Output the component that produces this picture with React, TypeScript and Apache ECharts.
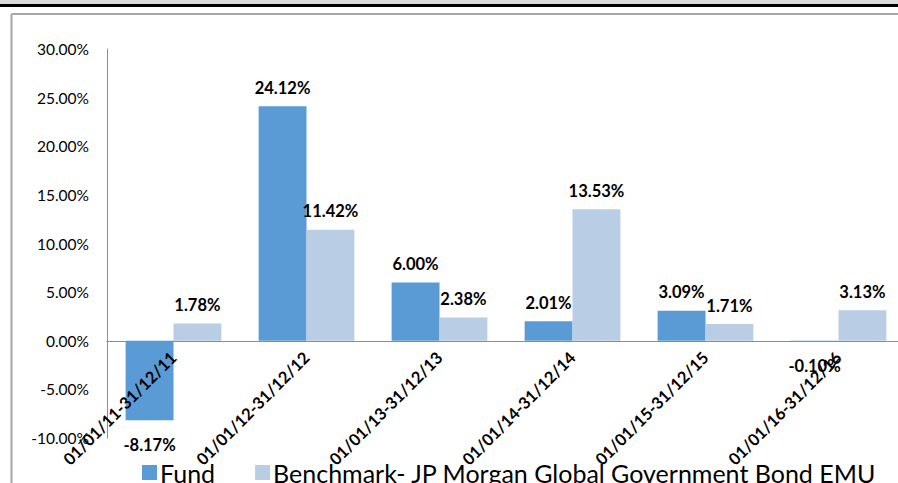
import React, { useEffect, useRef } from "react";
import * as echarts from "echarts";

const categories = [
  "01/01/11-31/12/11",
  "01/01/12-31/12/12",
  "01/01/13-31/12/13",
  "01/01/14-31/12/14",
  "01/01/15-31/12/15",
  "01/01/16-31/12/16",
];
const fundValues = [-8.17, 24.12, 6.0, 2.01, 3.09, -0.1];
const benchmarkValues = [1.78, 11.42, 2.38, 13.53, 1.71, 3.13];
const seriesNames = ["Fund", "Benchmark- JP Morgan Global Government Bond EMU"];
const yMin = -10;
const yMax = 30;

const FONT = "Lato, 'Open Sans', sans-serif";

export default function App() {
  const ref = useRef<HTMLDivElement>(null);
  useEffect(() => {
    if (!ref.current) return;
    const chart = echarts.init(ref.current, null, { renderer: "svg" });
    const gridTop = 49;
    const gridHeight = 389;
    const zeroOffset = -(gridHeight * (0 - yMin)) / (yMax - yMin);
    const labelFmt = (p: any) => Number(p.value).toFixed(2) + "%";
    const mkLabel = (vals: number[]) =>
      vals.map((v) => ({
        value: v,
        label: {
          show: true,
          position: v < 0 ? "bottom" : "top",
          distance: v < 0 ? 16 : 10,
          formatter: labelFmt,
          fontFamily: FONT,
          fontWeight: "bold",
          fontSize: 16.5,
          color: "#000",
        },
      }));
    chart.setOption({
      animation: false,
      backgroundColor: "#fff",
      textStyle: { fontFamily: FONT },
      graphic: [
        { type: "rect", shape: { x: 0, y: 0, width: 898, height: 5 }, style: { fill: "#d9d9d9" }, silent: true },
        { type: "rect", shape: { x: 0, y: 4, width: 898, height: 3 }, style: { fill: "#000" }, silent: true },
        { type: "line", shape: { x1: 11.5, y1: 14, x2: 898, y2: 14 }, style: { stroke: "#a6a6a6", lineWidth: 2 }, silent: true },
        { type: "line", shape: { x1: 11.5, y1: 14, x2: 11.5, y2: 483 }, style: { stroke: "#a6a6a6", lineWidth: 2 }, silent: true },
      ],
      legend: {
        left: 137,
        top: 455,
        itemWidth: 15,
        itemHeight: 15,
        itemGap: 40,
        icon: "rect",
        textStyle: { fontFamily: FONT, fontSize: 25, color: "#000", padding: [0, 0, 0, -2] },
        data: seriesNames,
      },
      grid: {
        left: 107,
        top: gridTop,
        width: 798,
        height: gridHeight,
        containLabel: false,
        outerBoundsMode: "none",
      },
      xAxis: {
        type: "category",
        data: categories,
        offset: zeroOffset,
        z: 10,
        axisLine: { onZero: false, lineStyle: { color: "#8c8c8c", width: 1 } },
        axisTick: { show: false },
        axisLabel: {
          rotate: 45,
          interval: 0,
          margin: 14,
          fontFamily: FONT,
          fontSize: 16.5,
          fontWeight: "bold",
          color: "#000",
        },
      },
      yAxis: {
        type: "value",
        min: yMin,
        max: yMax,
        interval: 5,
        splitLine: { show: false },
        axisLine: { show: true, lineStyle: { color: "#8c8c8c", width: 1 } },
        axisTick: { show: false },
        axisLabel: {
          margin: 18,
          fontFamily: FONT,
          fontSize: 15.5,
          color: "#000",
          formatter: (v: number) => v.toFixed(2) + "%",
        },
      },
      series: [
        {
          name: seriesNames[0],
          type: "bar",
          data: mkLabel(fundValues),
          itemStyle: { color: "#5b9bd5" },
          barGap: "0%",
          barCategoryGap: "28%",
        },
        {
          name: seriesNames[1],
          type: "bar",
          data: mkLabel(benchmarkValues),
          itemStyle: { color: "#b9cde5" },
          barGap: "0%",
          barCategoryGap: "28%",
        },
      ],
    });
    return () => chart.dispose();
  }, []);
  return (
    <div
      ref={ref}
      style={{ position: "fixed", left: 0, top: 0, width: 898, height: 483 }}
    />
  );
}
